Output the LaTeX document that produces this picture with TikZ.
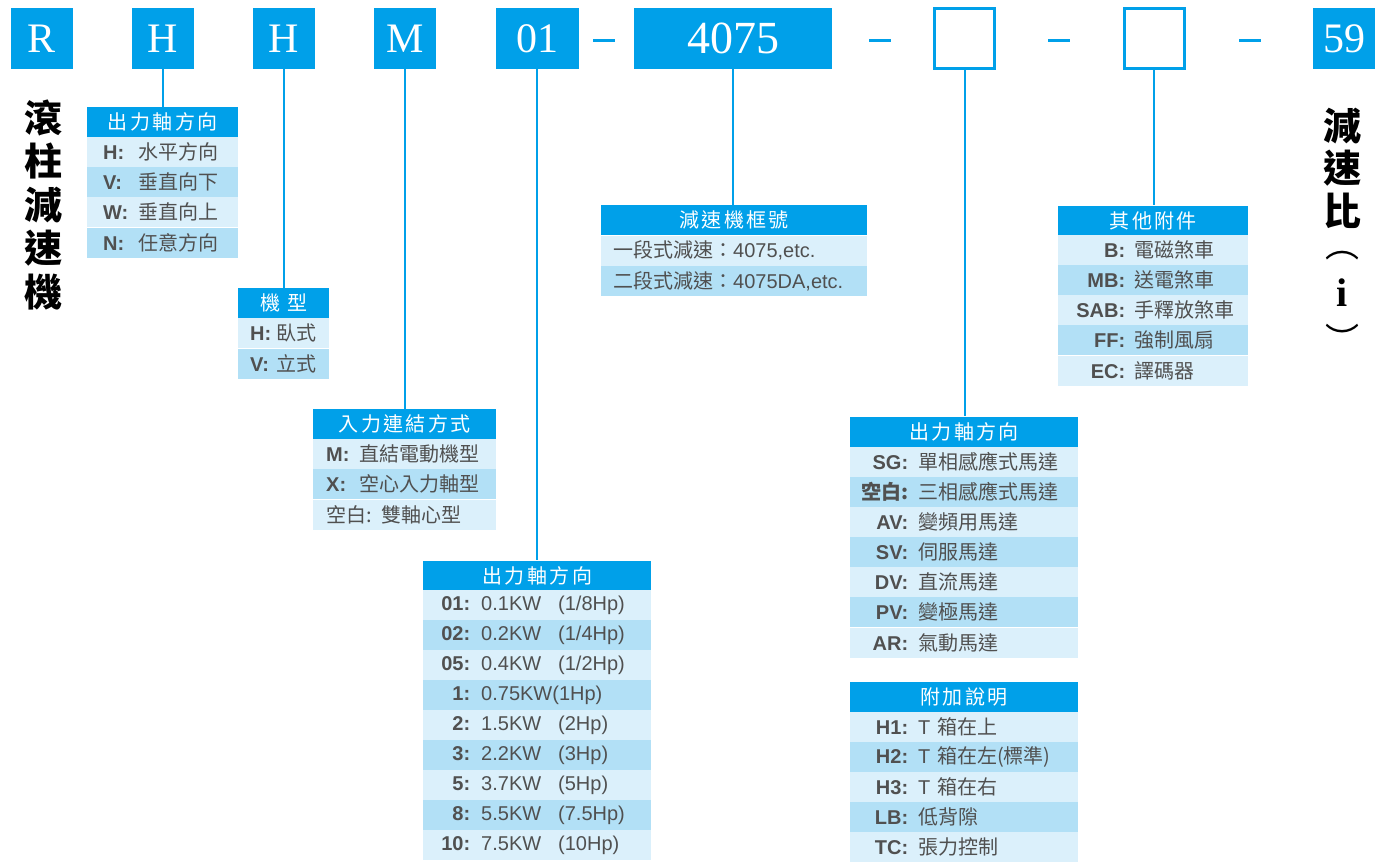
\documentclass[tikz,border=0pt]{standalone}
\usepackage{fontspec}
\setmainfont{Liberation Sans}
\newfontfamily\cjk{Noto Sans CJK TC}
\newfontfamily\cjkhd{Noto Sans CJK TC}[LetterSpace=12]
\newfontfamily\serifnum{Liberation Serif}

\definecolor{skyblue}{RGB}{0,160,233}
\definecolor{rowlite}{RGB}{219,240,251}
\definecolor{rowdark}{RGB}{178,224,246}
\definecolor{inkgray}{RGB}{80,80,80}

\newcommand\keyl[2]{\makebox[#1pt][l]{\bfseries #2}}
\newcommand\keyr[2]{\makebox[#1pt][r]{\bfseries #2}}

\tikzset{
  codebox/.style={fill=skyblue,text=white,minimum width=62pt,minimum height=61pt,
    inner sep=0pt,font=\serifnum\fontsize{42}{42}\selectfont},
  blankbox/.style={draw=skyblue,line width=3pt,minimum width=60pt,minimum height=60pt,inner sep=0pt},
  dashbar/.style={fill=skyblue,minimum width=22pt,minimum height=3pt,inner sep=0pt},
  hdr/.style={fill=skyblue,text=white,anchor=west,minimum height=30pt,inner ysep=0pt,
    align=center,font=\cjkhd\fontsize{20}{22}\selectfont},
  rowa/.style={fill=rowlite,text=inkgray,anchor=west,minimum height=30pt,inner ysep=0pt,
    align=left,font=\fontsize{20}{22}\selectfont},
  rowb/.style={rowa,fill=rowdark},
  bigcjk/.style={inner sep=0pt,align=center,font=\cjk\bfseries\fontsize{38}{43.5}\selectfont},
  arcmark/.style={inner sep=0pt,font=\cjk\fontsize{34}{34}\selectfont},
  link/.style={draw=skyblue,line width=2pt}
}

\begin{document}
\begin{tikzpicture}[x=1pt,y=-1pt]
  \useasboundingbox (0,0) rectangle (1378,862);

  % code row
  \node[codebox] (tR)  at (42,38.5)  {R};
  \node[codebox] (tH1) at (163,38.5) {H};
  \node[codebox] (tH2) at (284,38.5) {H};
  \node[codebox] (tM)  at (405,38.5) {M};
  \node[codebox,minimum width=83pt] (t01) at (537,38.5) {01};
  \node[dashbar] (d1) at (604,40) {};
  \node[codebox,minimum width=198pt,font=\serifnum\fontsize{46}{46}\selectfont] (tFrame) at (733,38.5) {4075};
  \node[dashbar] (d2) at (880,40) {};
  \node[blankbox] (tMotor) at (964.5,38.5) {};
  \node[dashbar] (d3) at (1059,40) {};
  \node[blankbox] (tAcc) at (1154,38.5) {};
  \node[dashbar] (d4) at (1250,40) {};
  \node[codebox] (tRatio) at (1344,38.5) {59};

  % side titles
  \node[bigcjk] (leftTitle)  at (43,205)   {滾\\柱\\減\\速\\機};
  \node[bigcjk,font=\cjk\bfseries\fontsize{38}{42.5}\selectfont] (rightTitle) at (1342,168) {減\\速\\比};
  \node[arcmark] (ratioOpen)  at (1342,256) {︵};
  \node[inner sep=0pt,font=\serifnum\bfseries\fontsize{40}{40}\selectfont] (ratioI) at (1342,293) {i};
  \node[arcmark] (ratioClose) at (1342,338) {︶};

  % output shaft
  \begin{scope}[every node/.append style={inner xsep=16pt,text width=119pt}]
    \node[hdr]  (hdA) at (87,122) {出力軸方向};
    \node[rowa] (a1)  at (87,152) {\keyl{35}{H:}{\cjk 水平方向}};
    \node[rowb] (a2)  at (87,182) {\keyl{35}{V:}{\cjk 垂直向下}};
    \node[rowa] (a3)  at (87,212) {\keyl{35}{W:}{\cjk 垂直向上}};
    \node[rowb] (a4)  at (87,242.5) {\keyl{35}{N:}{\cjk 任意方向}};
  \end{scope}

  % type
  \begin{scope}[every node/.append style={inner xsep=12pt,text width=67pt}]
    \node[hdr]  (hdB) at (238,303) {機 型};
    \node[rowa] (b1)  at (238,333) {\keyl{26}{H:}{\cjk 臥式}};
    \node[rowb] (b2)  at (238,363.5) {\keyl{26}{V:}{\cjk 立式}};
  \end{scope}

  % input
  \begin{scope}[every node/.append style={inner xsep=13pt,text width=157pt}]
    \node[hdr]  (hdC) at (313,424) {入力連結方式};
    \node[rowa] (c1)  at (313,454) {\keyl{33}{M:}{\cjk 直結電動機型}};
    \node[rowb] (c2)  at (313,484) {\keyl{33}{X:}{\cjk 空心入力軸型}};
    \node[rowa] (c3)  at (313,514.5) {\makebox[55pt][l]{\cjk 空白:}{\cjk 雙軸心型}};
  \end{scope}

  % power
  \begin{scope}[every node/.append style={inner xsep=10pt,text width=208pt}]
    \node[hdr]  (hdD) at (423,575.5) {出力軸方向};
    \node[rowa] (p1)  at (423,605) {\keyr{37}{01:}\hspace{11pt}\makebox[77pt][l]{0.1KW}(1/8Hp)};
    \node[rowb] (p2)  at (423,635) {\keyr{37}{02:}\hspace{11pt}\makebox[77pt][l]{0.2KW}(1/4Hp)};
    \node[rowa] (p3)  at (423,665) {\keyr{37}{05:}\hspace{11pt}\makebox[77pt][l]{0.4KW}(1/2Hp)};
    \node[rowb] (p4)  at (423,695) {\keyr{37}{1:}\hspace{11pt}0.75KW(1Hp)};
    \node[rowa] (p5)  at (423,725) {\keyr{37}{2:}\hspace{11pt}\makebox[77pt][l]{1.5KW}(2Hp)};
    \node[rowb] (p6)  at (423,755) {\keyr{37}{3:}\hspace{11pt}\makebox[77pt][l]{2.2KW}(3Hp)};
    \node[rowa] (p7)  at (423,785) {\keyr{37}{5:}\hspace{11pt}\makebox[77pt][l]{3.7KW}(5Hp)};
    \node[rowb] (p8)  at (423,815) {\keyr{37}{8:}\hspace{11pt}\makebox[77pt][l]{5.5KW}(7.5Hp)};
    \node[rowa] (p9)  at (423,845) {\keyr{37}{10:}\hspace{11pt}\makebox[77pt][l]{7.5KW}(10Hp)};
  \end{scope}

  % frame size
  \begin{scope}[every node/.append style={inner xsep=12pt,text width=242pt}]
    \node[hdr]  (hdE) at (601,220) {減速機框號};
    \node[rowa] (e1)  at (601,250.5) {{\cjk 一段式減速：}4075,etc.};
    \node[rowb] (e2)  at (601,281) {{\cjk 二段式減速：}4075DA,etc.};
  \end{scope}

  % motor
  \begin{scope}[every node/.append style={inner xsep=8pt,text width=212pt}]
    \node[hdr]  (hdF) at (850,431.5) {出力軸方向};
    \node[rowa] (m1)  at (850,462) {\keyr{50}{SG:}\hspace{10pt}{\cjk 單相感應式馬達}};
    \node[rowb] (m2)  at (850,492) {\keyr{50}{\cjk 空白:}\hspace{10pt}{\cjk 三相感應式馬達}};
    \node[rowa] (m3)  at (850,522) {\keyr{50}{AV:}\hspace{10pt}{\cjk 變頻用馬達}};
    \node[rowb] (m4)  at (850,552) {\keyr{50}{SV:}\hspace{10pt}{\cjk 伺服馬達}};
    \node[rowa] (m5)  at (850,582) {\keyr{50}{DV:}\hspace{10pt}{\cjk 直流馬達}};
    \node[rowb] (m6)  at (850,612) {\keyr{50}{PV:}\hspace{10pt}{\cjk 變極馬達}};
    \node[rowa] (m7)  at (850,642.5) {\keyr{50}{AR:}\hspace{10pt}{\cjk 氣動馬達}};

    \node[hdr]  (hdG) at (850,697) {附加說明};
    \node[rowa] (g1)  at (850,727) {\keyr{50}{H1:}\hspace{10pt}T {\cjk 箱在上}};
    \node[rowb] (g2)  at (850,757) {\keyr{50}{H2:}\hspace{10pt}T {\cjk 箱在左(標準)}};
    \node[rowa] (g3)  at (850,787) {\keyr{50}{H3:}\hspace{10pt}T {\cjk 箱在右}};
    \node[rowb] (g4)  at (850,817) {\keyr{50}{LB:}\hspace{10pt}{\cjk 低背隙}};
    \node[rowa] (g5)  at (850,846.5) {\keyr{50}{TC:}\hspace{10pt}{\cjk 張力控制}};
  \end{scope}

  % accessories
  \begin{scope}[every node/.append style={inner xsep=10pt,text width=170pt}]
    \node[hdr]  (hdH) at (1058,220.5) {其他附件};
    \node[rowa] (h1)  at (1058,250) {\keyr{57}{B:}\hspace{9pt}{\cjk 電磁煞車}};
    \node[rowb] (h2)  at (1058,280) {\keyr{57}{MB:}\hspace{9pt}{\cjk 送電煞車}};
    \node[rowa] (h3)  at (1058,310) {\keyr{57}{SAB:}\hspace{9pt}{\cjk 手釋放煞車}};
    \node[rowb] (h4)  at (1058,340) {\keyr{57}{FF:}\hspace{9pt}{\cjk 強制風扇}};
    \node[rowa] (h5)  at (1058,371) {\keyr{57}{EC:}\hspace{9pt}{\cjk 譯碼器}};
  \end{scope}

  % links
  \path[link] (tH1.south)    -- (tH1.south |- hdA.north);
  \path[link] (tH2.south)    -- (tH2.south |- hdB.north);
  \path[link] (tM.south)     -- (tM.south |- hdC.north);
  \path[link] (t01.south)    -- (t01.south |- hdD.north);
  \path[link] (tFrame.south) -- (tFrame.south |- hdE.north);
  \path[link] (tMotor.south) -- (tMotor.south |- hdF.north);
  \path[link] (tAcc.south)   -- (tAcc.south |- hdH.north);

\end{tikzpicture}
\end{document}
